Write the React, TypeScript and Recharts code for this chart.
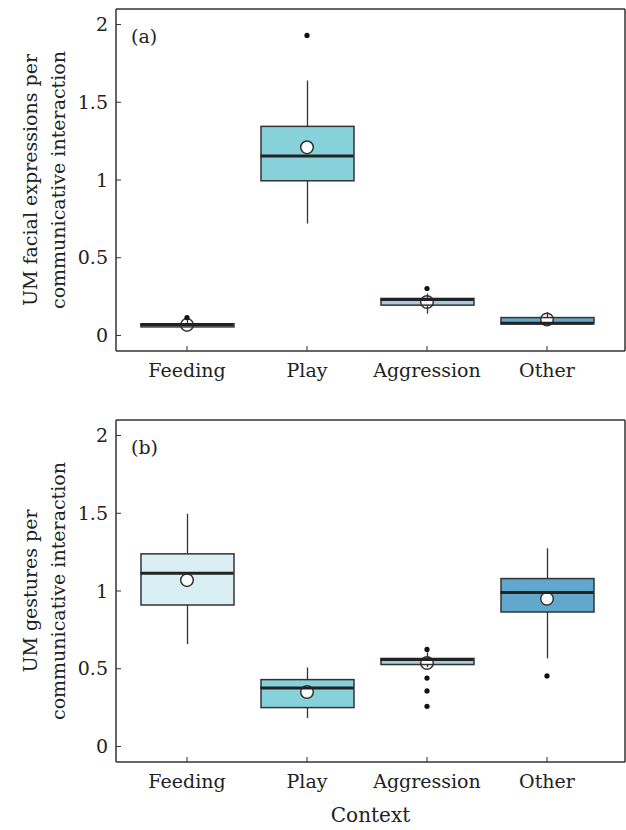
import * as React from 'react';
import { ComposedChart, Bar, Scatter, XAxis, YAxis, Cell, CartesianGrid } from 'recharts';

const contexts = ['Feeding', 'Play', 'Aggression', 'Other'];
const boxColors = ['#d9eff3', '#86d1da', '#a3cce4', '#62a8cd'];

// (a) facial expressions
const faceMin = [0.055, 0.72, 0.14, 0.07];
const faceQ1 = [0.055, 0.995, 0.195, 0.075];
const faceMed = [0.07, 1.155, 0.232, 0.079];
const faceQ3 = [0.075, 1.345, 0.238, 0.115];
const faceMax = [0.1, 1.64, 0.27, 0.15];
const faceMean = [0.068, 1.21, 0.215, 0.103];
const faceOut = [[0.115], [1.93], [0.302], []];

// (b) gestures
const gestMin = [0.658, 0.183, 0.51, 0.566];
const gestQ1 = [0.91, 0.25, 0.527, 0.865];
const gestMed = [1.114, 0.376, 0.56, 0.99];
const gestQ3 = [1.239, 0.43, 0.566, 1.08];
const gestMax = [1.497, 0.508, 0.606, 1.275];
const gestMean = [1.07, 0.35, 0.537, 0.95];
const gestOut = [[], [], [0.624, 0.44, 0.357, 0.258], [0.454]];

const yTicks = [0, 0.5, 1, 1.5, 2];
const yDomain = [-0.1, 2.1];
const FONT = '"DejaVu Serif", serif';
const BOX_W = 93;
const INK = '#333';
const PLOT_L = 116;
const PLOT_B = 351;

function buildRows(mn: number[], q1: number[], md: number[], q3: number[], mx: number[], mean: number[], out: number[][]) {
  return contexts.map((name, i) => {
    const row: any = { name, min: mn[i], q1: q1[i], med: md[i], q3: q3[i], max: mx[i], mean: mean[i] };
    for (let k = 0; k < 4; k++) row['o' + k] = out[i][k] ?? null;
    return row;
  });
}

const faceRows = buildRows(faceMin, faceQ1, faceMed, faceQ3, faceMax, faceMean, faceOut);
const gestRows = buildRows(gestMin, gestQ1, gestMed, gestQ3, gestMax, gestMean, gestOut);

const BoxFill = (p: any) => <rect x={p.x} y={p.y} width={p.width} height={p.height} fill={p.fill} />;

const BoxEdge = (p: any) => (
  <rect x={p.x} y={p.y} width={p.width} height={p.height} fill="none" stroke={INK} strokeWidth={1.5} />
);

const WhiskerShape = (p: any) => (
  <line x1={p.x + p.width / 2} x2={p.x + p.width / 2} y1={p.y} y2={p.y + p.height} stroke={INK} strokeWidth={1.3} />
);

const ok = (p: any) => Number.isFinite(p.cx) && Number.isFinite(p.cy) && p.node && p.node.y != null;

const MedianShape = (p: any) =>
  ok(p) ? <line x1={p.cx - BOX_W / 2} x2={p.cx + BOX_W / 2} y1={p.cy} y2={p.cy} stroke="#222" strokeWidth={3} /> : <g />;

const MeanShape = (p: any) =>
  ok(p) ? <circle cx={p.cx} cy={p.cy} r={6.3} fill="#fff" stroke={INK} strokeWidth={1.5} /> : <g />;

const DotShape = (p: any) => (ok(p) ? <circle cx={p.cx} cy={p.cy} r={2.6} fill="#111" /> : <g />);

// tick labels with short inward tick marks
const YTick = (p: any) => (
  <g>
    <line x1={PLOT_L} x2={PLOT_L + 5} y1={p.y} y2={p.y} stroke={INK} strokeWidth={1} />
    <text x={PLOT_L - 8} y={p.y} dy="0.35em" textAnchor="end" fontFamily={FONT} fontSize={19} fill="#222">{p.payload.value}</text>
  </g>
);

const XTick = (p: any) => (
  <g>
    <line x1={p.x} x2={p.x} y1={PLOT_B} y2={PLOT_B - 5} stroke={INK} strokeWidth={1} />
    <text x={p.x} y={PLOT_B + 26} textAnchor="middle" fontFamily={FONT} fontSize={19} fill="#222">{p.payload.value}</text>
  </g>
);

// frame lines on the plot-area edges
const frameRows = ({ offset }: any) => [offset.top, offset.top + offset.height];
const frameCols = ({ offset }: any) => [offset.left, offset.left + offset.width];

function Panel({ rows, lines, tag, height, xHeight, bottom, context }: any) {
  const yLabel = (props: any) => {
    const vb = props.viewBox;
    const cy = vb.y + vb.height / 2;
    return (
      <g>
        {lines.map((t: string, i: number) => (
          <text key={i} x={37 + i * 28} y={cy} transform={`rotate(-90 ${37 + i * 28} ${cy})`} textAnchor="middle"
            fontFamily={FONT} fontSize={19} fill="#222">{t}</text>
        ))}
        <text x={vb.x + vb.width + 15} y={vb.y + 34} fontFamily={FONT} fontSize={19} fill="#222">{tag}</text>
      </g>
    );
  };
  const z: any = (n: number) => ({ zIndex: n });
  return (
    <ComposedChart width={626} height={height} data={rows} barGap={-BOX_W}
      margin={{ top: 9, right: 1, left: 56, bottom }}>
      <CartesianGrid stroke={INK} strokeWidth={1.5} fill="none"
        horizontalCoordinatesGenerator={frameRows} verticalCoordinatesGenerator={frameCols} />
      <XAxis dataKey="name" type="category" padding={{ left: 11, right: 18 }} height={xHeight}
        axisLine={false} tickLine={false} tickSize={0} tickMargin={12}
        tick={<XTick />} interval={0}
        label={context ? { value: 'Context', position: 'insideBottom', offset: 8, fontFamily: FONT, fontSize: 20, fill: '#222' } : undefined} />
      <YAxis type="number" domain={yDomain} ticks={yTicks} width={60} axisLine={false}
        tickLine={false} tickSize={0} tickMargin={8} tick={<YTick />} label={yLabel} />
      <Bar dataKey={(d: any) => [d.q1, d.q3]} barSize={BOX_W} shape={BoxFill} isAnimationActive={false} {...z(300)}>
        {rows.map((r: any, i: number) => <Cell key={r.name} fill={boxColors[i]} />)}
      </Bar>
      <Scatter dataKey="mean" shape={MeanShape} isAnimationActive={false} {...z(310)} />
      <Bar dataKey={(d: any) => [d.q3, d.max]} barSize={BOX_W} shape={WhiskerShape} isAnimationActive={false} {...z(320)} />
      <Bar dataKey={(d: any) => [d.min, d.q1]} barSize={BOX_W} shape={WhiskerShape} isAnimationActive={false} {...z(320)} />
      <Bar dataKey={(d: any) => [d.q1, d.q3]} barSize={BOX_W} shape={BoxEdge} isAnimationActive={false} {...z(330)} />
      <Scatter dataKey="med" shape={MedianShape} isAnimationActive={false} {...z(340)} />
      {[0, 1, 2, 3].map((k) => (
        <Scatter key={k} dataKey={'o' + k} shape={DotShape} isAnimationActive={false} {...z(350)} />
      ))}
    </ComposedChart>
  );
}

export default function App() {
  return (
    <div style={{ position: 'absolute', left: 0, top: 0, width: 626, height: 830, background: '#fff' }}>
      <div style={{ position: 'absolute', left: 0, top: 0 }}>
        <Panel rows={faceRows} lines={['UM facial expressions per', 'communicative interaction']} tag="(a)"
          height={410} xHeight={40} bottom={19} />
      </div>
      <div style={{ position: 'absolute', left: 0, top: 411 }}>
        <Panel rows={gestRows} lines={['UM gestures per', 'communicative interaction']} tag="(b)"
          height={419} xHeight={68} bottom={0} context />
      </div>
    </div>
  );
}
